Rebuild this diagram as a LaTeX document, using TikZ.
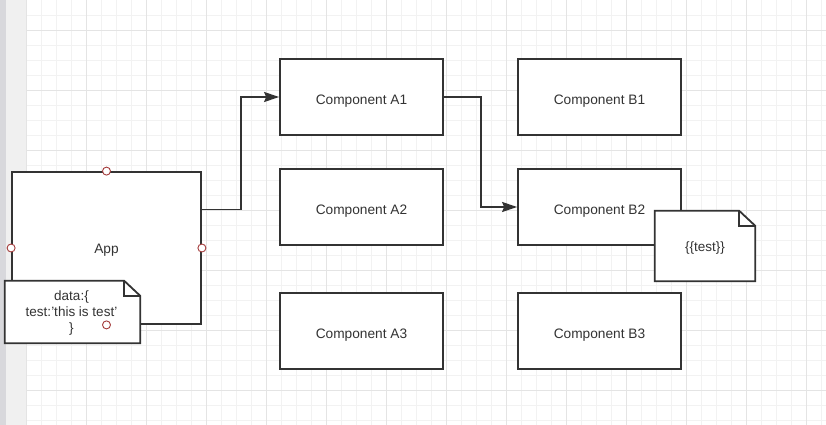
\documentclass[tikz,border=0pt]{standalone}
\usepackage{fontspec}
\setmainfont{Liberation Sans}
\usetikzlibrary{arrows.meta,calc}
\definecolor{ink}{HTML}{333333}
\definecolor{gridminor}{HTML}{F2F2F2}
\definecolor{gridmajor}{HTML}{E4E4E4}
\definecolor{stripA}{HTML}{D8D8DC}
\definecolor{stripB}{HTML}{F0F0F0}
\definecolor{portred}{HTML}{A33A3A}
\tikzset{
  box/.style={draw=ink, line width=1.8pt, fill=white, text=ink, font=\fontsize{13.7}{16}\selectfont, inner sep=0pt},
  comp/.style={box, minimum width=163pt, minimum height=76pt, text height=14pt, text depth=0pt},
  notetext/.style={text=ink, font=\fontsize{13.5}{16}\selectfont, align=center, inner sep=0pt},
  noteline/.style={draw=ink, line width=1.8pt, fill=white, line join=miter},
  conn/.style={draw=ink, line width=1.7pt, -{Stealth[length=15pt,width=10pt,inset=2pt]}},
  port/.style={circle, draw=portred, fill=white, line width=0.9pt, minimum size=8pt, inner sep=0pt}
}
\begin{document}
\begin{tikzpicture}[x=1pt,y=-1pt]
\useasboundingbox (0,0) rectangle (826,425);
\fill[white] (0,0) rectangle (826,425);
% grid
\foreach \i in {0,...,53} {\draw[gridminor, line width=1pt] ({26.5+15*\i},0) -- ({26.5+15*\i},425);}
\foreach \j in {1,...,28} {\draw[gridminor, line width=1pt] (26,{15.5+15*(\j-1)}) -- (826,{15.5+15*(\j-1)});}
\foreach \i in {0,...,13} {\draw[gridmajor, line width=1pt] ({26.5+60*\i},0) -- ({26.5+60*\i},425);}
\foreach \j in {0,...,6} {\draw[gridmajor, line width=1pt] (26,{30.5+60*\j}) -- (826,{30.5+60*\j});}
% left strip
\fill[stripB] (0,0) rectangle (26,425);
\fill[stripA] (0,0) rectangle (5.5,425);

% App
\node[box, minimum width=189pt, minimum height=152pt, text height=10pt, text depth=0pt] (app) at (106.5,248) {App};

% Components
\node[comp] (a1) at (361.5,97) {Component A1};
\node[comp] (a2) at (361.5,207) {Component A2};
\node[comp] (a3) at (361.5,331) {Component A3};
\node[comp] (b1) at (599.5,97) {Component B1};
\node[comp] (b2) at (599.5,207) {Component B2};
\node[comp] (b3) at (599.5,331) {Component B3};

% connectors
\coordinate (appout) at ($(app.north east)!0.25!(app.south east)$);
\draw[conn] (appout) -- ++(39,0) |- (a1.west);
\draw[conn] (a1.east) -- ++(37,0) |- (b2.west);

% note 1
\node[minimum width=135pt, minimum height=62pt, inner sep=0pt] (note1) at (72.5,312) {};
\draw[noteline] (note1.north west) -- ([xshift=-16pt]note1.north east) -- ([yshift=-15pt]note1.north east) -- (note1.south east) -- (note1.south west) -- cycle;
\draw[noteline, fill=none] ([xshift=-16pt]note1.north east) -- ([xshift=-16pt,yshift=-15pt]note1.north east) -- ([yshift=-15pt]note1.north east);
\node[notetext] (note1t) at (71.5,313) {data:\{\\test:'this is test'\\\}};

% note 2
\node[minimum width=100pt, minimum height=70pt, inner sep=0pt] (note2) at (705,246) {};
\draw[noteline] (note2.north west) -- ([xshift=-16pt]note2.north east) -- ([yshift=-15pt]note2.north east) -- (note2.south east) -- (note2.south west) -- cycle;
\draw[noteline, fill=none] ([xshift=-16pt]note2.north east) -- ([xshift=-16pt,yshift=-15pt]note2.north east) -- ([yshift=-15pt]note2.north east);
\node[notetext] (note2t) at (705,248) {\{\{test\}\}};

% ports on App
\node[port] (p1) at (app.north) {};
\node[port] (p2) at (app.west) {};
\node[port] (p3) at (app.east) {};
\node[port] (p4) at (app.south) {};
\end{tikzpicture}
\end{document}
